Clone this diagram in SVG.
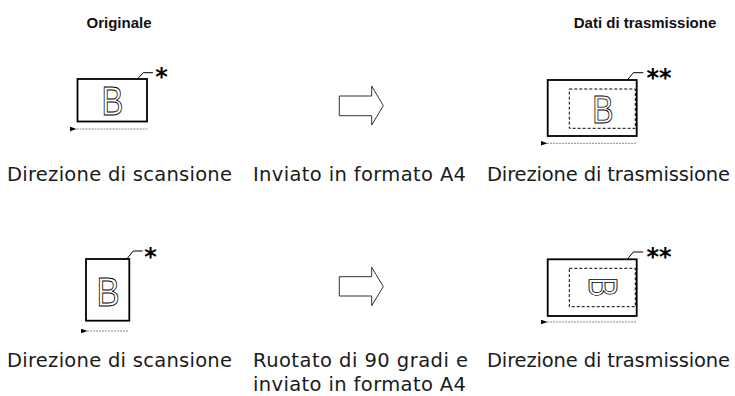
<svg xmlns="http://www.w3.org/2000/svg" width="735" height="396" viewBox="0 0 735 396">
<style>
.lbl{font-family:"DejaVu Sans","Liberation Sans",sans-serif;font-size:19.5px;fill:#1a1a1a}
.hdr{font-family:"Liberation Sans",Arial,sans-serif;font-size:15px;font-weight:bold;fill:#111}
.frame{fill:#fff;stroke:#000;stroke-width:1.8}
.dash{fill:none;stroke:#000;stroke-width:1;stroke-dasharray:3 2}
.lead{fill:none;stroke:#000;stroke-width:1}
.ast{font-family:"DejaVu Sans",sans-serif;font-size:24px;font-weight:bold;fill:#000}
.bl{font-family:"Liberation Sans",sans-serif;fill:#fff;stroke:#000;stroke-width:0.9}
.scan{stroke:#8a8a8a;stroke-width:1;stroke-dasharray:2 1;fill:none}
.big{fill:#fff;stroke:#333;stroke-width:1}
</style>
<defs>
<marker id="ah" markerWidth="7" markerHeight="5" refX="0.5" refY="2.5" orient="auto" markerUnits="userSpaceOnUse">
<path d="M7,0 L0,2.5 L7,5 Z" fill="#000"/>
</marker>
</defs>
<rect width="735" height="396" fill="#fff"/>

<g id="header-originale"><text class="hdr" x="119" y="28" text-anchor="middle">Originale</text></g>
<g id="header-dati"><text class="hdr" x="645" y="28" text-anchor="middle">Dati di trasmissione</text></g>

<g id="orig1">
<rect class="frame" x="77.5" y="79" width="69.5" height="42.5"/>
<text class="bl" font-size="41" transform="translate(112.5,115) scale(0.8,1)" text-anchor="middle">B</text>
<path class="lead" d="M137.3,79 L143.3,72.7 L153,72.7"/>
<text class="ast" x="161.5" y="85" text-anchor="middle">*</text>
<line class="scan" x1="147.5" y1="129" x2="76" y2="129" marker-end="url(#ah)"/>
</g>

<g id="trans1">
<rect class="frame" x="547.7" y="80" width="89" height="56"/>
<rect class="dash" x="569.3" y="89" width="66" height="39.3"/>
<text class="bl" font-size="39" transform="translate(603,123) scale(0.82,1)" text-anchor="middle">B</text>
<path class="lead" d="M627.3,80 L633.3,72.7 L643.3,72.7"/>
<text class="ast" x="659" y="86" text-anchor="middle">**</text>
<line class="scan" x1="636" y1="143.3" x2="547" y2="143.3" marker-end="url(#ah)"/>
</g>

<g id="orig2">
<rect class="frame" x="86" y="259" width="43.3" height="61.7"/>
<text class="bl" font-size="41" transform="translate(108,306) scale(0.85,1)" text-anchor="middle">B</text>
<path class="lead" d="M126.7,259 L133.3,251 L142.7,251"/>
<text class="ast" x="150.5" y="265" text-anchor="middle">*</text>
<line class="scan" x1="128" y1="331" x2="87" y2="331" marker-end="url(#ah)"/>
</g>

<g id="trans2">
<rect class="frame" x="547.7" y="259.3" width="89" height="56.7"/>
<rect class="dash" x="569.3" y="268.3" width="66" height="38.4"/>
<text class="bl" font-size="41" transform="translate(603,287) rotate(90) scale(0.72,1) translate(0,14.5)" text-anchor="middle">B</text>
<path class="lead" d="M627.3,259.3 L633.3,252 L643.3,252"/>
<text class="ast" x="659" y="265" text-anchor="middle">**</text>
<line class="scan" x1="636" y1="322" x2="547" y2="322" marker-end="url(#ah)"/>
</g>

<g id="connectors">
<polygon class="big" points="339.3,96 371.7,96 371.7,86 383.3,105.7 371.7,125 371.7,115.7 339.3,115.7"/>
<polygon class="big" points="339.3,276.7 371.7,276.7 371.7,267.3 383.3,286.7 371.7,305.7 371.7,296 339.3,296"/>
</g>

<g id="labels">
<text class="lbl" x="7" y="181" textLength="225">Direzione di scansione</text>
<text class="lbl" x="253" y="181" textLength="213">Inviato in formato A4</text>
<text class="lbl" x="487" y="181" textLength="243">Direzione di trasmissione</text>
<text class="lbl" x="7" y="367" textLength="225">Direzione di scansione</text>
<text class="lbl" x="253" y="367" textLength="215">Ruotato di 90 gradi e</text>
<text class="lbl" x="253" y="391" textLength="213">inviato in formato A4</text>
<text class="lbl" x="487" y="367" textLength="243">Direzione di trasmissione</text>
</g>
</svg>
